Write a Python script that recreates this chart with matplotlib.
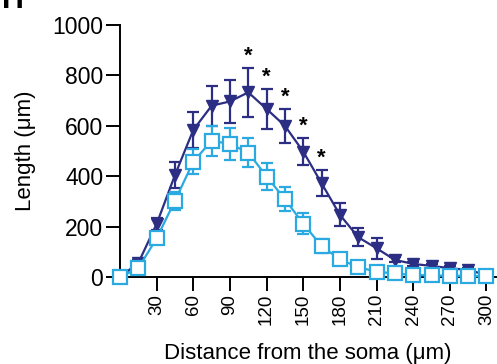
import matplotlib
matplotlib.use("Agg")
import matplotlib.pyplot as plt

plt.rcParams['font.family'] = ['Liberation Sans', 'DejaVu Sans']

distance = [0, 15, 30, 45, 60, 75, 90, 105, 120, 135, 150, 165, 180, 195, 210,
            225, 240, 255, 270, 285, 300]
dark_mean = [0, 56, 211, 405, 584, 680, 697, 733, 667, 600, 498, 372, 247, 158, 114,
             68, 52, 44, 35, 28, 8]
dark_err = [0, 10, 25, 50, 70, 80, 86, 98, 78, 67, 55, 51, 45, 36, 42,
            10, 9, 8, 8, 6, 4]
light_mean = [0, 35, 154, 303, 458, 541, 528, 494, 399, 309, 211, 123, 70, 39, 21,
              14, 8, 6, 5, 4, 3]
light_err = [0, 8, 15, 36, 50, 60, 63, 57, 53, 48, 42, 27, 12, 8, 6,
             4, 3, 3, 2, 2, 2]
star_x = [105, 120, 135, 150, 165]
xtick_vals = [30, 60, 90, 120, 150, 180, 210, 240, 270, 300]
ytick_vals = [0, 200, 400, 600, 800, 1000]

navy = '#2B2E83'
cyan = '#2AAAE1'

fig = plt.figure(figsize=(4.97, 3.64), dpi=100)
ax = fig.add_axes([0.2415, 0.239, 0.757, 0.692])

ax.errorbar(distance, dark_mean, yerr=dark_err, color=navy, lw=1.6,
            marker='v', ms=8.5, mfc=navy, mec=navy, capsize=4.5, capthick=1.6,
            elinewidth=1.6, zorder=3, clip_on=False)
ax.errorbar(distance, light_mean, yerr=light_err, color=cyan, lw=1.6,
            marker='s', ms=9.5, mfc='white', mec=cyan, mew=1.6, capsize=4.5,
            capthick=1.6, elinewidth=1.6, zorder=4, clip_on=False)

for sx in star_x:
    i = distance.index(sx)
    ax.annotate('*', (sx, dark_mean[i] + dark_err[i]), xytext=(0, 1),
                textcoords='offset points', ha='center', va='bottom',
                fontsize=16, fontweight='bold', color='black')

ax.set_xlim(0, 308)
ax.set_ylim(0, 1000)
ax.set_xticks(xtick_vals)
ax.set_xticklabels([str(v) for v in xtick_vals], rotation=90, fontsize=13.5)
ax.set_yticks(ytick_vals)
ax.set_yticklabels([str(v) for v in ytick_vals], fontsize=16.5)
ax.tick_params(axis='both', length=10, width=1.4, pad=2)
for s in ['top', 'right']:
    ax.spines[s].set_visible(False)
for s in ['left', 'bottom']:
    ax.spines[s].set_linewidth(1.4)

ax.set_xlabel('Distance from the soma (\u03bcm)', fontsize=16, labelpad=13)
ax.set_ylabel('Length (\u03bcm)', fontsize=16, labelpad=12)

fig.text(0.005, 1.0, 'H', fontsize=22, fontweight='bold', va='center', ha='left')

fig.savefig('out.png', dpi=100)
